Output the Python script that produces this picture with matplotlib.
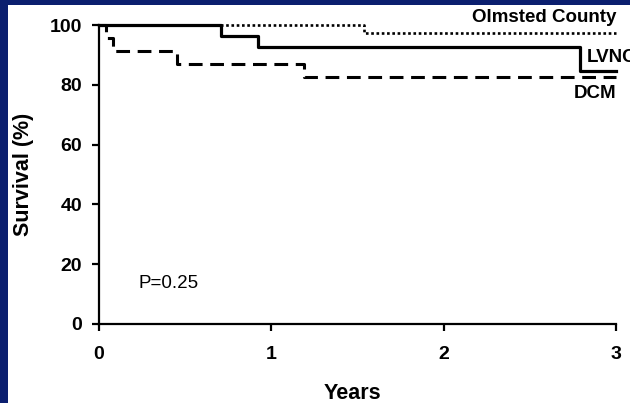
import matplotlib.pyplot as plt
from matplotlib.patches import Rectangle

plt.rcParams['font.family'] = ['Liberation Sans', 'DejaVu Sans']

# Kaplan-Meier style step data (years, survival %)
olmsted_t = [0, 1.54, 3.0]
olmsted_s = [100, 97.3, 97.3]
lvnc_t = [0, 0.71, 0.92, 2.79, 3.0]
lvnc_s = [100, 96.3, 92.6, 84.6, 84.6]
dcm_t = [0, 0.04, 0.08, 0.45, 1.19, 3.0]
dcm_s = [100, 95.7, 91.3, 87.0, 82.6, 82.6]

x_ticks = [0, 1, 2, 3]
y_ticks = [0, 20, 40, 60, 80, 100]

W, H = 630, 403
fig = plt.figure(figsize=(W / 100, H / 100), dpi=100, facecolor='#0b1f6f')
fig.patches.append(Rectangle((8 / W, 0), 1, (H - 5) / H, transform=fig.transFigure,
                             facecolor='white', edgecolor='none', zorder=-10))

ax = fig.add_axes([99 / W, (H - 324) / H, (616 - 99) / W, (324 - 25) / H])
ax.set_facecolor('none')

ax.step(dcm_t, dcm_s, where='post', color='black', lw=2.2, dashes=(4.5, 2.5), clip_on=False)
ax.step(olmsted_t, olmsted_s, where='post', color='black', lw=1.9, dashes=(1.0, 1.0), clip_on=False)
ax.step(lvnc_t, lvnc_s, where='post', color='black', lw=2.3, clip_on=False)

ax.set_xlim(0, 3)
ax.set_ylim(0, 100)
ax.set_xticks(x_ticks)
ax.set_yticks(y_ticks)
for s in ['top', 'right']:
    ax.spines[s].set_visible(False)
for s in ['left', 'bottom']:
    ax.spines[s].set_linewidth(1.6)
ax.tick_params(axis='both', direction='out', length=5, width=1.6, labelsize=14)
ax.tick_params(axis='y', pad=7)
ax.tick_params(axis='x', pad=11)
for lab in ax.get_xticklabels() + ax.get_yticklabels():
    lab.set_fontweight('bold')

ax.set_xlabel('Years', fontsize=15.5, fontweight='bold')
ax.xaxis.set_label_coords(0.49, -0.231)
ax.xaxis.label.set_va('center')
ax.set_ylabel('Survival (%)', fontsize=15.5, fontweight='bold')
ax.yaxis.set_label_coords(-0.147, 0.5)
ax.yaxis.label.set_va('center')

ax.text(616 / W, (H - 17) / H, 'Olmsted County', transform=fig.transFigure,
        ha='right', va='center', fontsize=13.5, fontweight='bold')
ax.text(587 / W, (H - 58) / H, 'LVNC', transform=fig.transFigure,
        ha='left', va='center', fontsize=13.5, fontweight='bold')
ax.text(616 / W, (H - 94) / H, 'DCM', transform=fig.transFigure,
        ha='right', va='center', fontsize=13.5, fontweight='bold')
ax.text(138 / W, (H - 283) / H, 'P=0.25', transform=fig.transFigure,
        ha='left', va='center', fontsize=13.5)

fig.savefig('out.png', dpi=100, facecolor=fig.get_facecolor())
